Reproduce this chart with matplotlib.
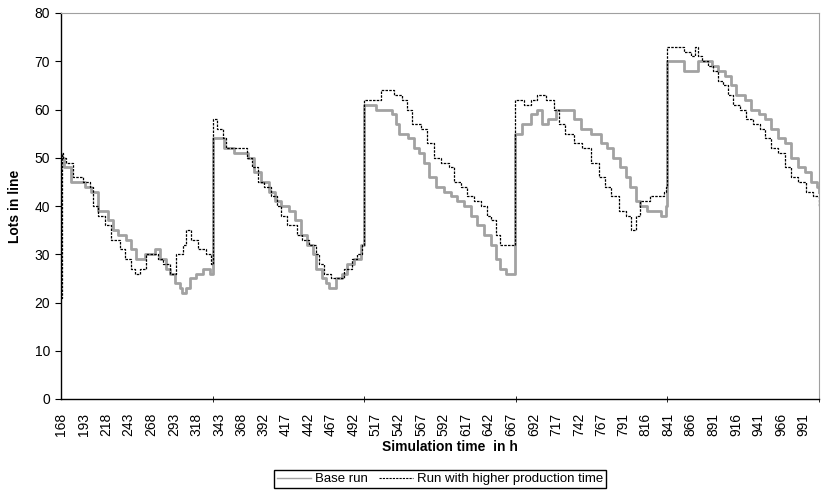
import matplotlib
matplotlib.use('Agg')
import matplotlib.pyplot as plt
from matplotlib.lines import Line2D

plt.rcParams['font.family'] = ['Liberation Sans', 'DejaVu Sans']
plt.rcParams['font.size'] = 10

# lots in line over simulation time (hours), read as step series
base_hours = [
    168, 171, 179, 195, 201, 209, 220, 226, 231, 240, 246, 251, 256, 261, 272, 278, 284, 289, 294, 300,
    302, 307, 311, 318, 325, 333,
    336, 341, 349, 360, 375, 382, 390, 399, 405, 412, 421, 427, 434, 441, 447, 451, 457, 462, 465, 473,
    479, 485, 493, 501,
    504, 517, 528, 535, 539, 543, 552, 559, 565, 570, 576, 584, 592, 600, 607, 615, 622, 629, 637, 644,
    650, 655, 661,
    671, 679, 689, 695, 701, 708, 717, 728, 736, 744, 755, 766, 773, 780, 788, 794, 799, 805, 810, 817,
    827, 833, 838,
    840, 852, 858, 866, 874, 883, 889, 896, 904, 910, 916, 926, 933, 941, 948, 955, 963, 970, 977, 985,
    992, 999, 1006, 1008,
]
base_lots = [
    50, 48, 45, 44, 43, 39, 37, 35, 34, 33, 31, 29, 29, 30, 31, 29, 27, 26, 24, 23,
    22, 23, 25, 26, 27, 26,
    54, 54, 52, 51, 50, 47, 45, 43, 41, 40, 39, 37, 34, 32, 30, 27, 25, 24, 23, 25,
    26, 28, 29, 32,
    61, 60, 60, 59, 57, 55, 54, 52, 51, 49, 46, 44, 43, 42, 41, 40, 38, 36, 34, 32,
    29, 27, 26,
    55, 57, 59, 60, 57, 58, 60, 60, 58, 56, 55, 53, 52, 50, 48, 46, 44, 41, 40, 39,
    39, 38, 40,
    70, 70, 68, 68, 70, 70, 69, 68, 67, 65, 63, 62, 60, 59, 58, 56, 54, 53, 50, 48,
    47, 45, 44, 43,
]

high_hours = [
    168, 169, 170, 174, 181, 192, 200, 203, 209, 217, 223, 233, 239, 246, 250, 256, 262, 272, 275, 281,
    289, 295, 303, 307, 312, 320, 329, 334,
    336, 341, 347, 351, 368, 374, 380, 386, 393, 401, 407, 412, 419, 429, 435, 443, 451, 454, 460, 467,
    474, 482, 490, 496, 502,
    504, 513, 523, 537, 546, 551, 557, 567, 574, 581, 589, 598, 603, 611, 618, 626, 633, 640, 644, 650,
    655, 666,
    671, 681, 689, 695, 705, 714, 720, 727, 736, 745, 755, 764, 771, 778, 786, 794, 800, 805, 810, 821,
    836, 839,
    840, 852, 858, 866, 871, 874, 878, 885, 891, 896, 902, 907, 913, 921, 927, 935, 943, 948, 955, 963,
    970, 977, 985, 994, 1001, 1008,
]
high_lots = [
    21, 51, 50, 49, 46, 45, 44, 40, 38, 36, 33, 31, 29, 27, 26, 27, 30, 30, 29, 28,
    26, 30, 32, 35, 33, 31, 30, 28,
    58, 56, 54, 52, 52, 50, 48, 45, 44, 42, 40, 38, 36, 34, 33, 32, 30, 28, 26, 25,
    25, 27, 29, 30, 32,
    62, 62, 64, 63, 62, 60, 57, 56, 53, 50, 49, 48, 45, 44, 42, 41, 40, 38, 37, 34,
    32, 32,
    62, 61, 62, 63, 62, 60, 57, 55, 53, 52, 49, 46, 44, 42, 39, 38, 35, 38, 41, 42,
    43, 44,
    73, 73, 72, 71, 73, 71, 70, 69, 68, 66, 65, 63, 61, 60, 58, 57, 56, 54, 52, 51,
    48, 46, 45, 43, 42, 40,
]

tick_hours = [168, 193, 218, 243, 268, 293, 318, 343, 368, 392, 417, 442, 467, 492, 517, 542, 567,
              592, 617, 642, 667, 692, 717, 742, 767, 791, 816, 841, 866, 891, 916, 941, 966, 991]
week_marks = [168, 336, 504, 672, 840, 1008]

assert len(base_hours) == len(base_lots)
assert len(high_hours) == len(high_lots)

fig = plt.figure(figsize=(8.21, 4.91), dpi=100)
ax = fig.add_axes([61 / 821, 1 - 399 / 491, 758 / 821, 386 / 491])

gray = '#a2a2a2'
ax.plot(base_hours, base_lots, drawstyle='steps-post', color=gray, lw=2.0, zorder=2)
ax.plot(high_hours, high_lots, drawstyle='steps-post', color='black', lw=0.9,
        linestyle=(0, (2, 1)), zorder=3)

ax.set_xlim(168, 1008)
ax.set_ylim(0, 80)
ax.set_yticks(range(0, 81, 10))

ax.set_xticks(tick_hours)
ax.set_xticklabels([str(h) for h in tick_hours], rotation=90)
ax.tick_params(axis='x', which='major', length=0, pad=10)
ax.set_xticks(week_marks, minor=True)
ax.tick_params(axis='x', which='minor', length=4, direction='inout', color='black')
ax.tick_params(axis='y', length=4, direction='out', pad=4)

for side in ('top', 'right'):
    ax.spines[side].set_color('#a0a0a0')
for side in ('left', 'bottom'):
    ax.spines[side].set_color('black')
    ax.spines[side].set_linewidth(1.0)

fig.text(15 / 821, 1 - 206 / 491, 'Lots in line', rotation=90, ha='center', va='center',
         fontweight='bold', fontsize=10)
fig.text(450 / 821, 1 - 447 / 491, 'Simulation time  in h', ha='center', va='center',
         fontweight='bold', fontsize=10)

handles = [Line2D([], [], color=gray, lw=1.0),
           Line2D([], [], color='black', lw=0.8, linestyle=(0, (2, 1)))]
fig.legend(handles, ['Base run', 'Run with higher production time'], loc='center',
           bbox_to_anchor=(440 / 821, 1 - 479 / 491), ncol=2, fancybox=False,
           edgecolor='black', framealpha=1, fontsize=9.5, handlelength=2.6,
           columnspacing=0.8, handletextpad=0.3, borderpad=0.25, borderaxespad=0)

fig.savefig('out.png', dpi=100)
